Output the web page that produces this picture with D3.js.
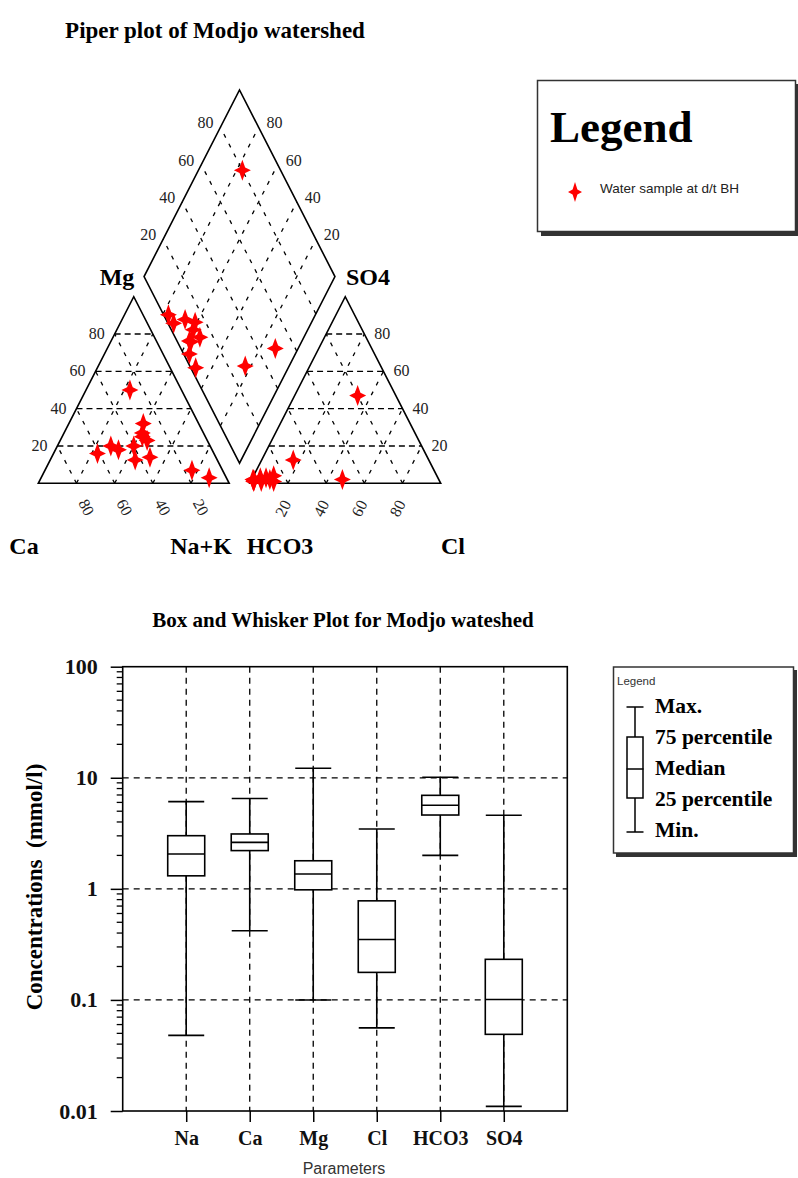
<!DOCTYPE html>
<html>
<head>
<meta charset="utf-8">
<script src="https://cdn.jsdelivr.net/npm/d3@7"></script>
<style>
  body { margin: 0; background: #fff; }
  text { font-family: "Liberation Serif", "Times New Roman", serif; }
</style>
</head>
<body>
<div id="chart"></div>
<script>
// piper samples, percent of meq, one entry per borehole
const ca   = [27, 61, 52, 49, 29, 40, 33, 32, 43, 31.5, 34.5, 16, 9];
const mg   = [50, 16, 20, 18, 32, 20, 25, 27, 12.5, 23, 14, 7, 3];
const nak  = [23, 23, 28, 33, 39, 40, 42, 41, 44.5, 45.5, 51.5, 77, 88];
const hco3 = [20, 97.5, 97, 90, 85.5, 88.5, 93, 93.5, 97, 87, 97.4, 71, 50.5];
const so4  = [47, 1, 2, 3, 4, 2, 3, 1, 1.5, 1, 2, 12.5, 2];
const cl   = [33, 1.5, 1, 7, 10.5, 9.5, 4, 5.5, 1.5, 12, 0.6, 16.5, 47.5];

const levels = [20, 40, 60, 80];

// box plot stats (mmol/l)
const params = ['Na', 'Ca', 'Mg', 'Cl', 'HCO3', 'SO4'];
const vMin = [0.048, 0.42, 0.1, 0.056, 2.0, 0.011];
const vQ1  = [1.31, 2.21, 0.98, 0.177, 4.62, 0.049];
const vMed = [2.06, 2.62, 1.36, 0.35, 5.65, 0.101];
const vQ3  = [3.01, 3.12, 1.79, 0.78, 6.95, 0.232];
const vMax = [6.1, 6.5, 12.2, 3.46, 10.1, 4.6];
const yTicks = [0.01, 0.1, 1, 10, 100];

const width = 798;
const height = 1178;

const svg = d3.select('#chart')
  .append('svg')
  .attr('width', width)
  .attr('height', height);

// ---------- Piper ----------
const gap = 10.8;
const h3 = Math.sqrt(3) / 2;
const px = d3.scaleLinear().domain([0, 200 + gap]).range([38.3, 440.7]);
const py = d3.scaleLinear().domain([0, 100 * h3]).range([483.3, 296.7]);

const cat = (c, m, n) => [px(n + m / 2), py(m * h3)];
const an = (h, s, c) => [px(100 + gap + c + s / 2), py(s * h3)];
const dia = (n, h) => {
  const t = 200 + gap - h - n;
  return [px(n + t / 2), py(t * h3)];
};

const line = d3.line();
const piper = svg.append('g');

function seg(a, b, dash) {
  piper.append('path')
    .attr('d', line([a, b]))
    .attr('stroke', '#000')
    .attr('stroke-width', 1.3)
    .attr('stroke-dasharray', dash)
    .attr('fill', 'none');
}

levels.forEach(k => {
  // cation triangle
  seg(cat(100 - k, k, 0), cat(0, k, 100 - k), '6,4');
  seg(cat(100 - k, 0, k), cat(0, 100 - k, k), '4,7');
  seg(cat(k, 0, 100 - k), cat(k, 100 - k, 0), '4,7');
  // anion triangle
  seg(an(100 - k, k, 0), an(0, k, 100 - k), '6,4');
  seg(an(100 - k, 0, k), an(0, 100 - k, k), '4,7');
  seg(an(k, 0, 100 - k), an(k, 100 - k, 0), '4,7');
  // diamond
  seg(dia(k, 100), dia(k, 0), '4,7');
  seg(dia(100, k), dia(0, k), '4,7');
});

const outlines = [
  [cat(100, 0, 0), cat(0, 0, 100), cat(0, 100, 0)],
  [an(100, 0, 0), an(0, 0, 100), an(0, 100, 0)],
  [dia(100, 100), dia(0, 100), dia(0, 0), dia(100, 0)]
];
piper.selectAll('.outline')
  .data(outlines)
  .join('path')
    .attr('class', 'outline')
    .attr('d', d => line(d) + 'Z')
    .attr('fill', 'none')
    .attr('stroke', '#000')
    .attr('stroke-width', 1.6);

// tick numbers
const numStyle = s => s.attr('font-size', '16px').attr('fill', '#222');
levels.forEach(k => {
  let p = cat(100 - k, k, 0);
  piper.append('text').call(numStyle)
    .attr('x', p[0] - 10).attr('y', p[1] + 5)
    .attr('text-anchor', 'end').text(k);
  p = an(0, k, 100 - k);
  piper.append('text').call(numStyle)
    .attr('x', p[0] + 10).attr('y', p[1] + 5)
    .attr('text-anchor', 'start').text(k);
  p = dia(0, 100 - k);
  piper.append('text').call(numStyle)
    .attr('x', p[0] - 7).attr('y', p[1] + 1)
    .attr('text-anchor', 'end').text(k);
  p = dia(100 - k, 0);
  piper.append('text').call(numStyle)
    .attr('x', p[0] + 8).attr('y', p[1] + 1)
    .attr('text-anchor', 'start').text(k);
  p = cat(k, 0, 100 - k);
  piper.append('text').call(numStyle)
    .attr('text-anchor', 'middle').attr('dominant-baseline', 'central')
    .attr('transform', `translate(${p[0] + 10},${p[1] + 24}) rotate(63)`)
    .text(k);
  p = an(100 - k, 0, k);
  piper.append('text').call(numStyle)
    .attr('text-anchor', 'middle').attr('dominant-baseline', 'central')
    .attr('transform', `translate(${p[0] - 5},${p[1] + 25}) rotate(-63)`)
    .text(k);
});

const axisNames = [
  { t: 'Mg', x: 117, y: 285 },
  { t: 'SO4', x: 368, y: 285 },
  { t: 'Ca', x: 24, y: 554 },
  { t: 'Na+K', x: 201, y: 554 },
  { t: 'HCO3', x: 280, y: 554 },
  { t: 'Cl', x: 453, y: 554 }
];
piper.selectAll('.axname')
  .data(axisNames)
  .join('text')
    .attr('class', 'axname')
    .attr('x', d => d.x).attr('y', d => d.y)
    .attr('text-anchor', 'middle')
    .attr('font-size', '24px')
    .attr('font-weight', 'bold')
    .text(d => d.t);

svg.append('text')
  .attr('x', 215).attr('y', 38)
  .attr('text-anchor', 'middle')
  .attr('font-size', '23px')
  .attr('font-weight', 'bold')
  .text('Piper plot of Modjo watershed');

// four point star marker
function star(rx, ry, r) {
  return `M0,${-ry} L${r},${-r} L${rx},0 L${r},${r} L0,${ry} L${-r},${r} L${-rx},0 L${-r},${-r}Z`;
}
const samples = d3.range(ca.length);
const pts = [];
samples.forEach(i => {
  pts.push(cat(ca[i], mg[i], nak[i]));
  pts.push(an(hco3[i], so4[i], cl[i]));
  pts.push(dia(nak[i], hco3[i]));
});
piper.selectAll('.pt')
  .data(pts)
  .join('path')
    .attr('class', 'pt')
    .attr('d', star(8.5, 10.5, 2.8))
    .attr('transform', d => `translate(${d[0]},${d[1]})`)
    .attr('fill', '#ff0000');

// piper legend
const lg = svg.append('g');
lg.append('rect').attr('x', 541).attr('y', 84).attr('width', 257).attr('height', 152).attr('fill', '#333');
lg.append('rect').attr('x', 537.5).attr('y', 80.5).attr('width', 258).attr('height', 151)
  .attr('fill', '#fff').attr('stroke', '#333').attr('stroke-width', 1.5);
lg.append('text').attr('x', 550).attr('y', 142)
  .attr('font-size', '45px').attr('font-weight', 'bold').text('Legend');
lg.append('path').attr('d', star(7, 10, 2.4))
  .attr('transform', 'translate(575,192)').attr('fill', '#ff0000');
lg.append('text').attr('x', 600).attr('y', 193)
  .style('font-family', '"Liberation Sans", Arial, sans-serif')
  .attr('font-size', '13.5px').attr('fill', '#222')
  .text('Water sample at d/t BH');

// ---------- Box and whisker ----------
const margin = { left: 122.7, right: 567.3, top: 666.7, bottom: 1111 };
const x = d3.scalePoint().domain(params).range([margin.left, margin.right]).padding(1);
const y = d3.scaleLog().domain([0.01, 100]).range([margin.bottom, margin.top]);
const box = svg.append('g');

// grid
box.selectAll('.hgrid')
  .data(yTicks.slice(1, -1))
  .join('line')
    .attr('class', 'hgrid')
    .attr('x1', margin.left).attr('x2', margin.right)
    .attr('y1', d => y(d)).attr('y2', d => y(d))
    .attr('stroke', '#000').attr('stroke-width', 1.3).attr('stroke-dasharray', '6,5');
box.selectAll('.vgrid')
  .data(params)
  .join('line')
    .attr('class', 'vgrid')
    .attr('x1', d => x(d)).attr('x2', d => x(d))
    .attr('y1', margin.top).attr('y2', margin.bottom)
    .attr('stroke', '#000').attr('stroke-width', 1.3).attr('stroke-dasharray', '6,5');

// y axis
const yAxis = d3.axisLeft(y)
  .tickValues(yTicks)
  .tickFormat(d => d < 1 ? String(d) : d3.format('d')(d))
  .tickSize(12)
  .tickPadding(13);
box.append('g')
  .attr('transform', `translate(${margin.left},0)`)
  .call(yAxis)
  .call(g => g.select('.domain').remove())
  .call(g => g.selectAll('line').attr('stroke', '#000').attr('stroke-width', 1.5))
  .call(g => g.selectAll('text')
    .attr('font-family', '"Liberation Serif", serif')
    .attr('font-size', '22px').attr('font-weight', 'bold').attr('fill', '#111'));

const minor = [];
yTicks.slice(0, -1).forEach(t => d3.range(2, 10).forEach(m => minor.push(t * m)));
box.selectAll('.minor')
  .data(minor)
  .join('line')
    .attr('class', 'minor')
    .attr('x1', margin.left - 6).attr('x2', margin.left)
    .attr('y1', d => y(d)).attr('y2', d => y(d))
    .attr('stroke', '#000').attr('stroke-width', 1.3);

// x axis
const xAxis = d3.axisBottom(x).tickSize(11).tickPadding(9);
box.append('g')
  .attr('transform', `translate(0,${margin.bottom})`)
  .call(xAxis)
  .call(g => g.select('.domain').remove())
  .call(g => g.selectAll('line').attr('stroke', '#000').attr('stroke-width', 1.5))
  .call(g => g.selectAll('text')
    .attr('font-family', '"Liberation Serif", serif')
    .attr('font-size', '20px').attr('font-weight', 'bold').attr('fill', '#111'));

// whiskers, boxes
const stats = params.map((p, i) => ({ p, min: vMin[i], q1: vQ1[i], med: vMed[i], q3: vQ3[i], max: vMax[i] }));
const bw = 37;
const cw = 36;
box.selectAll('.whisk')
  .data(stats)
  .join('line')
    .attr('class', 'whisk')
    .attr('x1', d => x(d.p)).attr('x2', d => x(d.p))
    .attr('y1', d => y(d.min)).attr('y2', d => y(d.max))
    .attr('stroke', '#000').attr('stroke-width', 1.6);
box.selectAll('.bx')
  .data(stats)
  .join('rect')
    .attr('class', 'bx')
    .attr('x', d => x(d.p) - bw / 2).attr('width', bw)
    .attr('y', d => y(d.q3)).attr('height', d => y(d.q1) - y(d.q3))
    .attr('fill', '#fff').attr('stroke', '#000').attr('stroke-width', 1.6);
['med', 'min', 'max'].forEach(k => {
  box.selectAll('.c' + k)
    .data(stats)
    .join('line')
      .attr('class', 'c' + k)
      .attr('x1', d => x(d.p) - (k === 'med' ? bw : cw) / 2)
      .attr('x2', d => x(d.p) + (k === 'med' ? bw : cw) / 2)
      .attr('y1', d => y(d[k])).attr('y2', d => y(d[k]))
      .attr('stroke', '#000').attr('stroke-width', 1.6);
});

// frame
box.append('rect')
  .attr('x', margin.left).attr('y', margin.top)
  .attr('width', margin.right - margin.left).attr('height', margin.bottom - margin.top)
  .attr('fill', 'none').attr('stroke', '#000').attr('stroke-width', 1.6);

svg.append('text')
  .attr('x', 343).attr('y', 627)
  .attr('text-anchor', 'middle')
  .attr('font-size', '21px').attr('font-weight', 'bold')
  .text('Box and Whisker Plot for Modjo wateshed');

svg.append('text')
  .attr('transform', 'translate(42,887) rotate(-90)')
  .attr('text-anchor', 'middle')
  .attr('font-size', '23px').attr('font-weight', 'bold')
  .attr('xml:space', 'preserve')
  .text('Concentrations  (mmol/l)');

svg.append('text')
  .attr('x', 344).attr('y', 1174)
  .attr('text-anchor', 'middle')
  .style('font-family', '"Liberation Sans", Arial, sans-serif')
  .attr('font-size', '16px').attr('fill', '#333')
  .text('Parameters');

// box legend
const bl = svg.append('g');
bl.append('rect').attr('x', 616).attr('y', 670).attr('width', 181).attr('height', 187).attr('fill', '#333');
bl.append('rect').attr('x', 613.5).attr('y', 667).attr('width', 180).attr('height', 186)
  .attr('fill', '#fff').attr('stroke', '#333').attr('stroke-width', 1.5);
bl.append('text').attr('x', 617).attr('y', 685)
  .style('font-family', '"Liberation Sans", Arial, sans-serif')
  .attr('font-size', '11.5px').attr('fill', '#333').text('Legend');
const lx = 635;
bl.append('line').attr('x1', lx).attr('x2', lx).attr('y1', 707).attr('y2', 832).attr('stroke', '#000').attr('stroke-width', 1.5);
bl.append('rect').attr('x', lx - 8).attr('y', 737).attr('width', 16).attr('height', 61)
  .attr('fill', '#fff').attr('stroke', '#000').attr('stroke-width', 1.5);
[707, 769, 832].forEach(v => {
  bl.append('line').attr('x1', lx - 8.5).attr('x2', lx + 8.5).attr('y1', v).attr('y2', v)
    .attr('stroke', '#000').attr('stroke-width', 1.5);
});
const legendRows = ['Max.', '75 percentile', 'Median', '25 percentile', 'Min.'];
bl.selectAll('.lrow')
  .data(legendRows)
  .join('text')
    .attr('class', 'lrow')
    .attr('x', 655)
    .attr('y', (d, i) => 713 + i * 31)
    .attr('font-size', '21.5px').attr('font-weight', 'bold')
    .text(d => d);
</script>
</body>
</html>
